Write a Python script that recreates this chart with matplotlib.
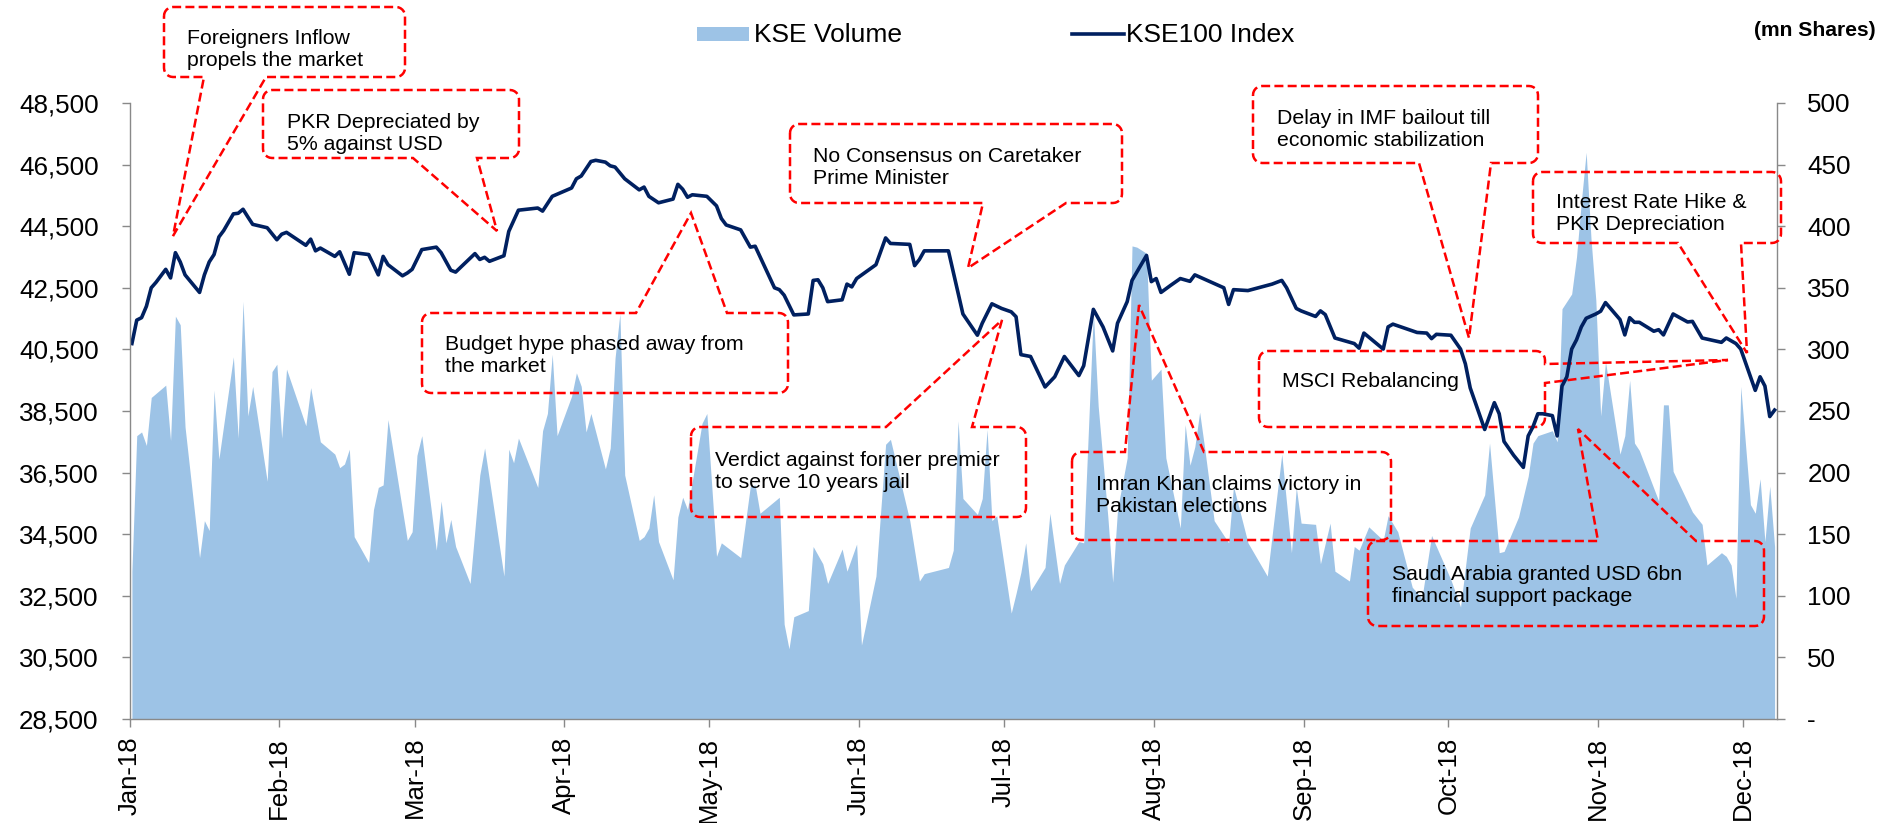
import numpy as np
import matplotlib
matplotlib.use("Agg")
import matplotlib.pyplot as plt
import matplotlib.dates as mdates
from matplotlib.path import Path
from matplotlib.patches import PathPatch, Rectangle
from matplotlib.lines import Line2D
from matplotlib.ticker import FuncFormatter, FixedLocator
import datetime as dt

plt.rcParams['font.family'] = ['Liberation Sans', 'DejaVu Sans']

# ---------------- data (day offset from 1-Jan-2018) ----------------
index_day = [0, 1, 2, 3, 4, 5, 7, 8, 9, 10, 11, 14, 15, 16, 17, 18, 19, 21, 22, 23, 24, 25, 28, 30, 31, 32,
             36, 37, 38, 39, 42, 43, 45, 46, 49, 51, 52, 53, 56, 57, 58, 60, 63, 64, 66, 67, 71, 72, 73, 74,
             77, 78, 80, 84, 85, 87, 91, 92, 93, 95, 96, 98, 99, 100, 102, 105, 106, 107, 109, 112, 113, 114,
             115, 116, 119, 121, 122, 123, 126, 128, 129, 133, 134, 135, 137, 140, 141, 142, 143, 144, 147,
             148, 149, 150, 154, 156, 157, 161, 162, 163, 164, 169, 172, 175, 176, 178, 180, 182, 183, 184,
             186, 189, 191, 193, 196, 197, 199, 201, 203, 204, 206, 207, 210, 211, 212, 213, 215, 217, 219,
             220, 226, 227, 228, 231, 236, 238, 239, 241, 242, 245, 246, 247, 249, 253, 254, 255, 259, 260,
             261, 266, 268, 269, 270, 273, 275, 276, 277, 280, 282, 283, 284, 286, 288, 289, 290, 291, 292,
             294, 295, 296, 297, 298, 299, 300, 301, 303, 304, 305, 308, 309, 310, 311, 312, 315, 316, 317,
             319, 322, 323, 325, 329, 330, 332, 333, 336, 337, 338, 339, 340]
index_value = [40690, 41450, 41530, 41900, 42500, 42680, 43100, 42820, 43640, 43340, 42920, 42350, 42920,
               43340, 43580, 44150, 44360, 44900, 44920, 45050, 44800, 44560, 44450, 44060, 44240, 44300,
               43880, 44080, 43700, 43790, 43520, 43670, 42940, 43640, 43580, 42920, 43520, 43250, 42890,
               42980, 43100, 43740, 43820, 43640, 43070, 43010, 43610, 43420, 43490, 43360, 43540, 44330,
               45020, 45090, 44990, 45470, 45740, 46040, 46130, 46600, 46640, 46580, 46460, 46420, 46040,
               45680, 45770, 45470, 45260, 45380, 45860, 45700, 45440, 45520, 45470, 45160, 44750, 44540,
               44380, 43820, 43850, 42500, 42440, 42260, 41620, 41650, 42740, 42760, 42500, 42050, 42110,
               42620, 42530, 42800, 43250, 44120, 43940, 43910, 43220, 43420, 43700, 43700, 41650, 40960,
               41350, 41980, 41830, 41720, 41560, 40330, 40270, 39280, 39610, 40270, 39650, 39970, 41800,
               41230, 40450, 41350, 42050, 42740, 43550, 42700, 42800, 42350, 42580, 42800, 42710, 42920,
               42500, 41960, 42440, 42410, 42620, 42740, 42500, 41830, 41750, 41570, 41750, 41630, 40870,
               40690, 40540, 41030, 40510, 41230, 41320, 41050, 41030, 40850, 40990, 40960, 40510, 40030,
               39250, 37900, 38770, 38410, 37510, 37060, 36670, 37690, 37990, 38410, 38410, 38350, 37690,
               39310, 39610, 40510, 40810, 41230, 41510, 41650, 41740, 42020, 41470, 40970, 41530, 41380,
               41380, 41090, 41140, 40970, 41650, 41390, 41410, 40870, 40730, 40870, 40690, 40510, 39170,
               39610, 39310, 38320, 38530]

volume_day = [0, 1, 2, 3, 4, 7, 8, 9, 10, 11, 14, 15, 16, 17, 18, 21, 22, 23, 24, 25, 28, 29, 30, 31, 32,
              36, 37, 39, 42, 43, 44, 45, 46, 49, 50, 51, 52, 53, 57, 58, 59, 60, 63, 64, 65, 66, 67, 70,
              72, 73, 77, 78, 79, 80, 84, 85, 86, 87, 88, 91, 92, 93, 94, 95, 98, 99, 100, 101, 102, 105,
              106, 107, 108, 109, 112, 113, 114, 115, 118, 119, 121, 122, 126, 128, 129, 130, 134, 135, 136,
              137, 140, 141, 143, 144, 147, 148, 150, 151, 154, 156, 157, 161, 163, 164, 169, 170, 171, 172,
              175, 176, 177, 178, 179, 182, 183, 184, 185, 186, 189, 190, 192, 193, 196, 197, 199, 200, 202,
              203, 204, 206, 207, 208, 210, 211, 213, 214, 217, 218, 219, 220, 221, 222, 224, 227, 228, 231,
              235, 238, 240, 241, 242, 245, 246, 248, 249, 252, 253, 254, 256, 259, 260, 262, 265, 267, 269,
              273, 275, 277, 280, 281, 283, 284, 287, 289, 290, 291, 294, 295, 296, 298, 299, 300, 301, 302,
              303, 304, 305, 308, 309, 310, 311, 312, 316, 317, 318, 319, 323, 325, 326, 329, 330, 331, 332,
              333, 335, 336, 337, 338, 339, 340]
volume_mn = [120, 230, 233, 222, 261, 271, 226, 327, 320, 237, 131, 161, 153, 267, 211, 294, 228, 339, 246,
             270, 193, 282, 288, 228, 284, 238, 269, 225, 215, 204, 207, 219, 148, 127, 170, 188, 190, 243,
             145, 152, 214, 230, 137, 177, 143, 162, 140, 110, 198, 220, 116, 219, 208, 228, 188, 234, 248,
             296, 230, 262, 281, 270, 233, 248, 203, 220, 293, 329, 198, 145, 148, 155, 182, 144, 113, 164,
             180, 170, 240, 248, 132, 143, 131, 189, 190, 167, 180, 77, 57, 83, 88, 140, 126, 110, 138, 120,
             142, 60, 116, 223, 227, 161, 112, 118, 123, 137, 242, 179, 166, 179, 235, 161, 165, 86, 102,
             119, 143, 104, 123, 167, 110, 125, 144, 143, 330, 254, 164, 111, 170, 212, 384, 383, 378, 275,
             284, 212, 155, 239, 206, 221, 249, 221, 161, 143, 189, 143, 116, 215, 135, 188, 159, 158, 126,
             159, 120, 112, 140, 137, 156, 145, 165, 152, 107, 98, 149, 113, 91, 155, 182, 224, 135, 136,
             164, 197, 224, 230, 234, 225, 333, 345, 375, 420, 460, 390, 340, 246, 290, 215, 230, 275, 224,
             218, 177, 255, 255, 201, 168, 158, 125, 135, 132, 125, 98, 270, 174, 167, 195, 144, 189, 140]

index_ticks = list(range(28500, 48501, 2000))
volume_ticks = list(range(0, 501, 50))
month_starts = ['2018-01-01', '2018-02-01', '2018-03-01', '2018-04-01', '2018-05-01', '2018-06-01',
                '2018-07-01', '2018-08-01', '2018-09-01', '2018-10-01', '2018-11-01', '2018-12-01']

legend_labels = ['KSE Volume', 'KSE100 Index']
unit_label = '(mn Shares)'

# annotations: text, box (x0,y0,x1,y1 in px from top-left), pointer side, base, tip, first-line baseline
callouts = [
    ("Foreigners Inflow\npropels the market", (164, 7, 405, 77), 'bottom', (204, 266), (173, 236), (187, 40.5)),
    ("PKR Depreciated by\n5% against USD", (263, 90, 519, 158), 'bottom', (413, 477), (497, 231), (287, 124)),
    ("Budget hype phased away from\nthe market", (422, 313, 788, 393), 'top', (636, 727), (691, 213), (445, 347)),
    ("No Consensus on Caretaker\nPrime Minister", (790, 124, 1122, 203), 'bottom', (983, 1066), (968, 268), (813, 159)),
    ("Delay in IMF bailout till\neconomic stabilization", (1253, 86, 1538, 163), 'bottom', (1419, 1491), (1469, 338), (1277, 120)),
    ("Interest Rate Hike &\nPKR Depreciation", (1533, 172, 1781, 243), 'bottom', (1678, 1741), (1747, 353), (1556, 205)),
    ("MSCI Rebalancing", (1259, 351, 1545, 427), 'right', (364, 383), (1728, 360), (1282, 387)),
    ("Verdict against former premier\nto serve 10 years jail", (691, 427, 1026, 517), 'top', (886, 972), (1002, 320), (715, 462)),
    ("Imran Khan claims victory in\nPakistan elections", (1072, 452, 1391, 540), 'top', (1125, 1204), (1139, 305), (1096, 487)),
    ("Saudi Arabia granted USD 6bn\nfinancial support package", (1368, 541, 1764, 626), 'top', (1598, 1696), (1578, 429), (1392, 576)),
]

# ---------------- figure ----------------
W, H = 1880, 823
fig = plt.figure(figsize=(W / 100, H / 100), dpi=100)


def P(x, y):
    return (x / W, 1 - y / H)


ax_l, ax_r, ax_t, ax_b = 129.5, 1777.0, 103.0, 719.0
ax = fig.add_axes([ax_l / W, 1 - ax_b / H, (ax_r - ax_l) / W, (ax_b - ax_t) / H])
ax2 = ax.twinx()

base = mdates.date2num(dt.datetime(2018, 1, 1))
xi = base + np.array(index_day, dtype=float) + 0.5
xv = base + np.array(volume_day, dtype=float) + 0.5

ax2.fill_between(xv, 0, volume_mn, color='#9DC3E6', linewidth=0)
ax.plot(xi, index_value, color='#002060', lw=2.6, solid_joinstyle='round')

ax.set_zorder(ax2.get_zorder() + 1)
ax.patch.set_visible(False)

ax.set_xlim(base, base + 341)
ax.set_ylim(28500, 48500)
ax2.set_ylim(0, 500)

gray = '#898989'
for s in ['top', 'right']:
    ax.spines[s].set_visible(False)
for s in ['top', 'left', 'bottom']:
    ax2.spines[s].set_visible(False)
ax.spines['left'].set_color(gray)
ax.spines['bottom'].set_color(gray)
ax2.spines['right'].set_color(gray)
for sp in [ax.spines['left'], ax.spines['bottom'], ax2.spines['right']]:
    sp.set_linewidth(1.0)

mticks = [mdates.date2num(dt.datetime.strptime(m, '%Y-%m-%d')) for m in month_starts]
ax.xaxis.set_major_locator(FixedLocator(mticks))
ax.xaxis.set_major_formatter(mdates.DateFormatter('%b-%y'))
ax.yaxis.set_major_locator(FixedLocator(index_ticks))
ax.yaxis.set_major_formatter(FuncFormatter(lambda v, p: f'{v:,.0f}'))
ax2.yaxis.set_major_locator(FixedLocator(volume_ticks))
ax2.yaxis.set_major_formatter(FuncFormatter(lambda v, p: '-' if v == 0 else f'{v:,.0f}'))

ax.tick_params(axis='y', direction='out', length=5.8, width=1, color=gray, labelsize=18.7, pad=16.5)
ax.tick_params(axis='x', direction='out', length=5.8, width=1, color=gray, labelsize=18.5, pad=7,
               labelrotation=90)
ax2.tick_params(axis='y', direction='out', length=5.8, width=1, color=gray, labelsize=18.7, pad=16)

# ---------------- legend (manual) ----------------
fig.add_artist(Rectangle(P(697, 41), 52 / W, 14 / H, transform=fig.transFigure,
                         facecolor='#9DC3E6', edgecolor='none'))
fig.text(*P(754, 42.5), legend_labels[0], fontsize=19, va='baseline', ha='left')
fig.add_artist(Line2D([1072 / W, 1124 / W], [1 - 34.3 / H, 1 - 34.3 / H], transform=fig.transFigure,
                      color='#002060', lw=2.6))
fig.text(*P(1126, 42.5), legend_labels[1], fontsize=19, va='baseline', ha='left')
fig.text(*P(1876, 36), unit_label, fontsize=15.2, fontweight='bold', va='baseline', ha='right')


# ---------------- callouts ----------------
def callout_path(box, side, bases, tip, r=9):
    x0, y0, x1, y1 = box

    def arc(cx, cy, a0, a1):
        t = np.radians(np.linspace(a0, a1, 7))
        return [(cx + r * np.cos(tt), cy + r * np.sin(tt)) for tt in t]

    b1, b2 = bases
    pts = []
    pts += arc(x0 + r, y0 + r, 180, 270)
    if side == 'top':
        pts += [(b1, y0), tip, (b2, y0)]
    pts += arc(x1 - r, y0 + r, 270, 360)
    if side == 'right':
        pts += [(x1, b1), tip, (x1, b2)]
    pts += arc(x1 - r, y1 - r, 0, 90)
    if side == 'bottom':
        pts += [(b2, y1), tip, (b1, y1)]
    pts += arc(x0 + r, y1 - r, 90, 180)
    pts.append(pts[0])
    verts = [P(x, y) for x, y in pts]
    codes = [Path.MOVETO] + [Path.LINETO] * (len(verts) - 2) + [Path.CLOSEPOLY]
    return Path(verts, codes)


ann_size = 15.3
line_h = 1.2 * ann_size * 100 / 72  # pixels between baselines
for text, box, side, bases, tip, tpos in callouts:
    patch = PathPatch(callout_path(box, side, bases, tip), transform=fig.transFigure, fill=False,
                      edgecolor='#FF0000', lw=1.8, linestyle=(0, (3.6, 1.7)), joinstyle='miter')
    fig.add_artist(patch)
    n_extra = text.count('\n')
    fig.text(*P(tpos[0], tpos[1] + n_extra * line_h), text, fontsize=ann_size, va='baseline', ha='left',
             linespacing=1.2, color='black')

fig.savefig('out.png', dpi=100)
